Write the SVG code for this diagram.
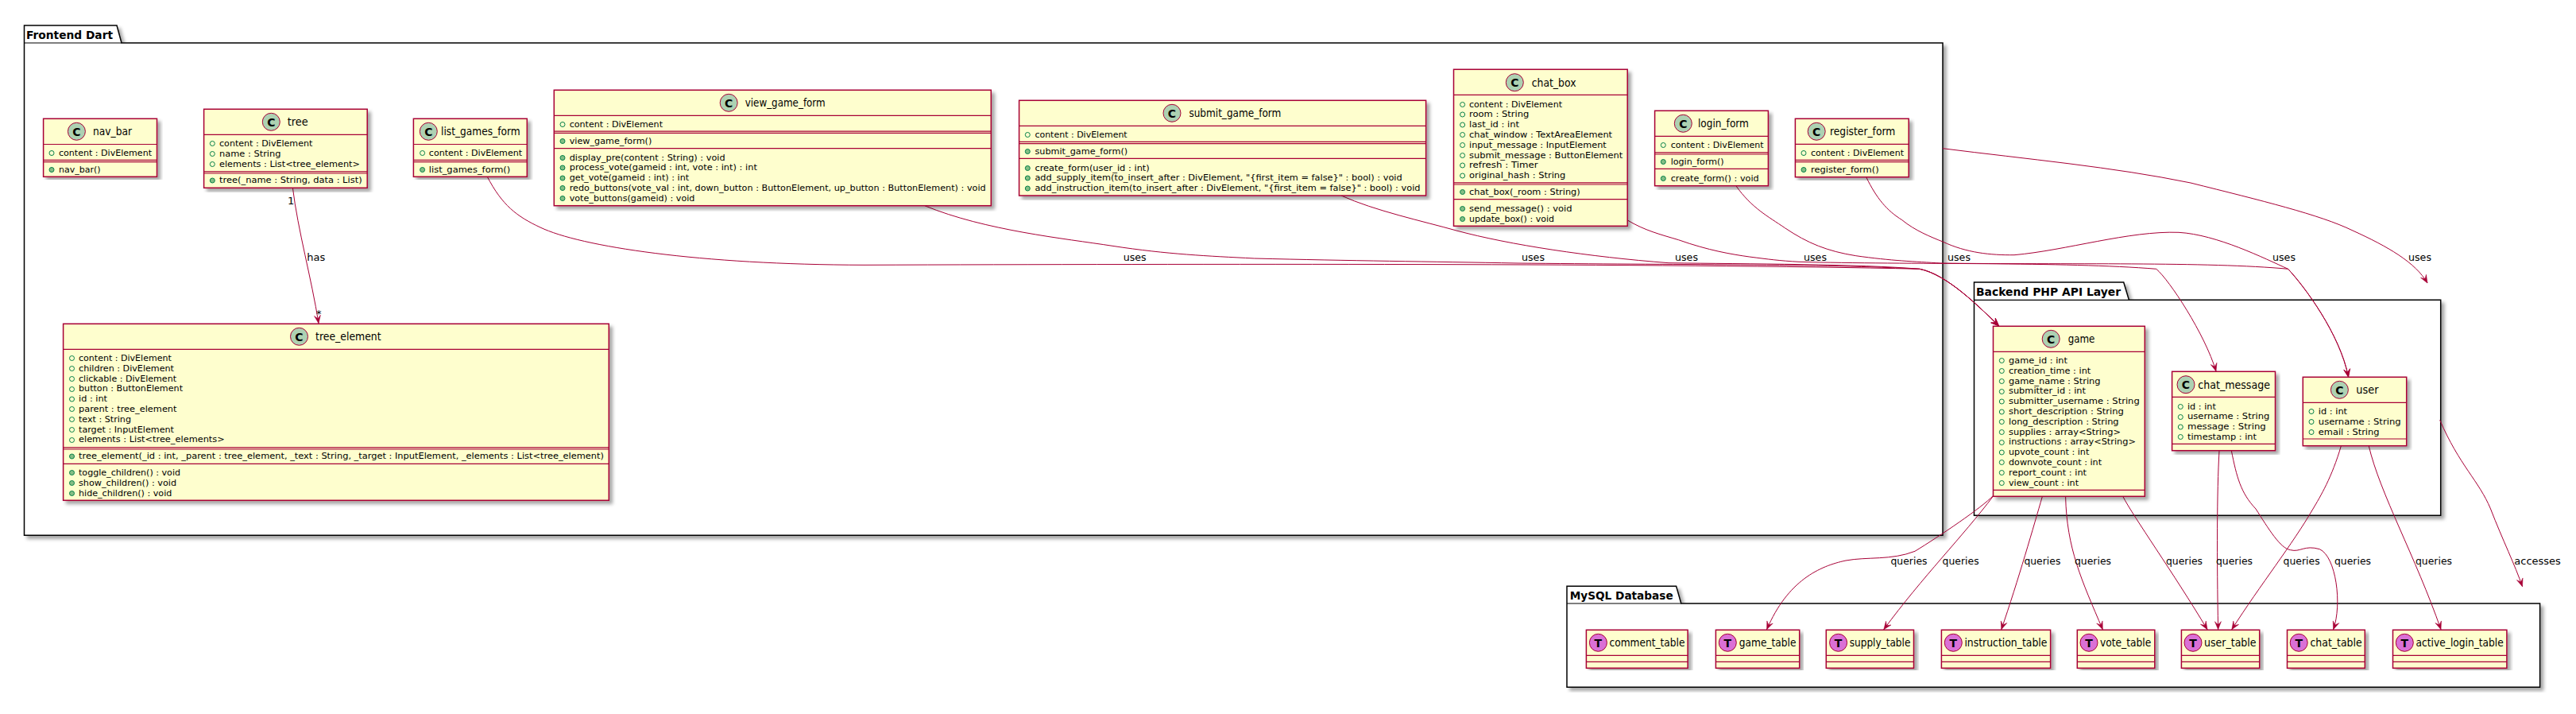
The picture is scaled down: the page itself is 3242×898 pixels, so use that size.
<svg xmlns="http://www.w3.org/2000/svg" width="3242" height="898" viewBox="0 0 3242 898">
<style>
text{font-family:"DejaVu Sans","Liberation Sans",sans-serif;fill:#000}
.m{font-size:11px}
.n{font-size:14px}
.e{font-size:13px}
.p{font-size:14px;font-weight:bold}
.g{font-size:14px;font-weight:bold;text-anchor:middle}
.b{fill:#FEFECE;stroke:#A80036;stroke-width:1.5;filter:url(#s)}
.l{fill:none;stroke:#A80036;stroke-width:1.2}
.c{fill:#ADD1B2;stroke:#A80036;stroke-width:1}
.t{fill:#DA70D6;stroke:#A80036;stroke-width:1}
.f{fill:none;stroke:#038048;stroke-width:1}
.o{fill:#84BE84;stroke:#038048;stroke-width:1}
.k{fill:#fff;stroke:#000;stroke-width:1.5;filter:url(#s)}
#edges path{fill:none;stroke:#A80036;stroke-width:1}
.a{marker-end:url(#a)}
</style>
<defs>
<filter id="s" x="-5%" y="-5%" width="110%" height="110%"><feDropShadow dx="4" dy="4" stdDeviation="2" flood-color="#000" flood-opacity=".35"/></filter>
<marker id="a" markerUnits="userSpaceOnUse" markerWidth="14" markerHeight="12" refX="11" refY="6" orient="auto"><path d="M1 2L11 6L1 10L5 6Z" fill="#A80036" stroke="#A80036" stroke-width=".5"/></marker>
</defs>
<rect width="3242" height="898" fill="#fff"/>
<g id="pkg-frontend"><path class="k" d="M30.5 32H147L153 54H2445V673.3H30.5Z"/><path class="l" style="stroke:#000" d="M30.5 54H153"/><text class="p" x="33" y="49.3" textLength="109" lengthAdjust="spacingAndGlyphs">Frontend Dart</text></g>
<g id="pkg-backend"><path class="k" d="M2484.5 355H2672.7L2679.4 377.3H3071.7V648.3H2484.5Z"/><path class="l" style="stroke:#000" d="M2484.5 377.3H2679.4"/><text class="p" x="2487" y="371.7" textLength="182" lengthAdjust="spacingAndGlyphs">Backend PHP API Layer</text></g>
<g id="pkg-mysql"><path class="k" d="M1972 737.3H2109.6L2115.8 759H3196.6V864.3H1972Z"/><path class="l" style="stroke:#000" d="M1972 759H2115.8"/><text class="p" x="1975.7" y="754" textLength="130" lengthAdjust="spacingAndGlyphs">MySQL Database</text></g>

<g id="edges">
<path class="a" d="M368.4 236.3C375 290 392 350 401 406.7"/>
<path class="a" d="M613.3 222.3C632 258 650 272 680 286C730 310 880 333 1088 333.3C1500 332 2100 331 2416 338.3C2450 345 2490 385 2515.7 410"/>
<path class="a" d="M1163.7 258.7C1240 290 1340 300 1400 309.3C1470 320 1520 322 1578.6 325C1700 328 1800 329 1910 331C2100 333 2300 332 2416 338.3C2450 345 2490 385 2515.7 410"/>
<path class="a" d="M1688 246C1730 265 1790 278 1833 290C1900 308 2000 323 2100 330.7C2200 332 2340 332 2416 338.3C2450 345 2490 385 2515.7 410"/>
<path class="a" d="M2047.8 276.7C2070 290 2090 295 2112.5 301.7C2150 315 2180 320 2201.8 323C2225 326 2240 328 2264 329.3C2400 333 2600 329 2713.8 338.3C2730 352 2775 420 2789 467"/>
<path class="a" d="M2184.8 233.7C2205 262 2225 272 2246.4 286.7C2275 306 2300 316 2335.7 321.7C2380 328 2410 329 2442.9 331C2600 333 2780 329 2879.6 338.3C2900 360 2945 420 2955.6 474.3"/>
<path class="a" d="M2348.7 222.7C2362 250 2375 265 2393.8 276.7C2410 290 2430 298 2445 304C2475 318 2505 321 2535 320.7C2600 315 2680 290 2742 292.3C2790 295 2850 325 2879.6 338.3C2900 360 2945 420 2955.6 474.3"/>
<path class="a" d="M2445 186.7C2550 200 2660 210 2757 230C2845 252 2920 270 2961 290C3005 310 3040 330 3055 356"/>
<path class="a" d="M2508.5 623.3C2495 638 2440 675 2410 693.3C2380 705 2350 700 2323 705C2290 712 2250 730 2223.6 791.7"/>
<path class="a" d="M2508.5 624C2470 675 2420 725 2370.8 791.7"/>
<path class="a" d="M2570.4 624.3C2560 660 2540 730 2518.8 791.7"/>
<path class="a" d="M2599.6 624.3C2601 690 2620 730 2646.3 791.7"/>
<path class="a" d="M2671.7 624.3C2685 650 2735 720 2778 791.7"/>
<path class="a" d="M2793 566.7C2790 620 2790 700 2791.6 791.7"/>
<path class="a" d="M2808.3 566.7C2815 600 2820 620 2839 640C2855 665 2870 690 2882.6 691.7C2895 695 2900 685 2919.4 690.7C2940 700 2948 760 2936.6 791.7"/>
<path class="a" d="M2946.4 560.7C2935 600 2920 625 2911 640C2885 685 2845 735 2808.8 791.7"/>
<path class="a" d="M2981.2 560.7C2995 620 3040 700 3072 791.7"/>
<path class="a" d="M3070.7 528.3C3095 585 3120 605 3134.5 640C3150 680 3165 710 3174.5 737.7"/>
<text class="e" x="362" y="256.7">1</text>
<text class="e" x="386.2" y="327.7" textLength="23" lengthAdjust="spacingAndGlyphs">has</text>
<text class="e" x="398" y="399">*</text>
<text class="e" x="1413.7" y="328" textLength="29" lengthAdjust="spacingAndGlyphs">uses</text>
<text class="e" x="1915" y="328" textLength="29" lengthAdjust="spacingAndGlyphs">uses</text>
<text class="e" x="2108" y="328" textLength="29" lengthAdjust="spacingAndGlyphs">uses</text>
<text class="e" x="2270" y="328" textLength="29" lengthAdjust="spacingAndGlyphs">uses</text>
<text class="e" x="2451" y="328" textLength="29" lengthAdjust="spacingAndGlyphs">uses</text>
<text class="e" x="2860" y="328" textLength="29" lengthAdjust="spacingAndGlyphs">uses</text>
<text class="e" x="3031" y="328" textLength="29" lengthAdjust="spacingAndGlyphs">uses</text>
<text class="e" x="2379.5" y="710" textLength="46" lengthAdjust="spacingAndGlyphs">queries</text>
<text class="e" x="2444.6" y="710" textLength="46" lengthAdjust="spacingAndGlyphs">queries</text>
<text class="e" x="2547.4" y="710" textLength="46" lengthAdjust="spacingAndGlyphs">queries</text>
<text class="e" x="2611" y="710" textLength="46" lengthAdjust="spacingAndGlyphs">queries</text>
<text class="e" x="2726" y="710" textLength="46" lengthAdjust="spacingAndGlyphs">queries</text>
<text class="e" x="2789" y="710" textLength="46" lengthAdjust="spacingAndGlyphs">queries</text>
<text class="e" x="2873.6" y="710" textLength="46" lengthAdjust="spacingAndGlyphs">queries</text>
<text class="e" x="2938" y="710" textLength="46" lengthAdjust="spacingAndGlyphs">queries</text>
<text class="e" x="3040" y="710" textLength="46" lengthAdjust="spacingAndGlyphs">queries</text>
<text class="e" x="3164.3" y="710" textLength="58.6" lengthAdjust="spacingAndGlyphs">accesses</text>
</g>

<g id="nav_bar"><rect class="b" x="54.6" y="149.3" width="142.9" height="73"/><path class="l" d="M54.6 181.5H197.5M54.6 201.4H197.5M54.6 203.6H197.5"/><circle class="c" cx="96.4" cy="165.3" r="11"/><text class="g" x="96.4" y="170.5">C</text><text class="n" x="117" y="170" textLength="49" lengthAdjust="spacingAndGlyphs">nav_bar</text>
<circle class="f" cx="65" cy="192.5" r="3"/><text class="m" x="74" y="196" textLength="117" lengthAdjust="spacingAndGlyphs">content : DivElement</text><circle class="o" cx="65" cy="213.5" r="3"/><text class="m" x="74" y="217" textLength="52.5" lengthAdjust="spacingAndGlyphs">nav_bar()</text></g>

<g id="tree"><rect class="b" x="256.6" y="137.3" width="205.6" height="99"/><path class="l" d="M256.6 169.3H462.2M256.6 215.8H462.2M256.6 218H462.2"/><circle class="c" cx="341.3" cy="153.3" r="11"/><text class="g" x="341.3" y="158.5">C</text><text class="n" x="361.7" y="158" textLength="26" lengthAdjust="spacingAndGlyphs">tree</text>
<circle class="f" cx="267.3" cy="180.5" r="3"/><text class="m" x="276" y="184" textLength="117.4" lengthAdjust="spacingAndGlyphs">content : DivElement</text><circle class="f" cx="267.3" cy="193.5" r="3"/><text class="m" x="276" y="197" textLength="77.5" lengthAdjust="spacingAndGlyphs">name : String</text><circle class="f" cx="267.3" cy="206.5" r="3"/><text class="m" x="276" y="210" textLength="177" lengthAdjust="spacingAndGlyphs">elements : List&lt;tree_element&gt;</text><circle class="o" cx="267.3" cy="227" r="3"/><text class="m" x="276" y="230" textLength="179.6" lengthAdjust="spacingAndGlyphs">tree(_name : String, data : List)</text></g>

<g id="list_games_form"><rect class="b" x="520.4" y="149.3" width="142.9" height="73"/><path class="l" d="M520.4 181.5H663.3M520.4 201.4H663.3M520.4 203.6H663.3"/><circle class="c" cx="539.3" cy="165.3" r="11"/><text class="g" x="539.3" y="170.5">C</text><text class="n" x="555" y="170" textLength="99.6" lengthAdjust="spacingAndGlyphs">list_games_form</text>
<circle class="f" cx="531.6" cy="192.5" r="3"/><text class="m" x="539.8" y="196" textLength="117.3" lengthAdjust="spacingAndGlyphs">content : DivElement</text><circle class="o" cx="531.6" cy="213.5" r="3"/><text class="m" x="539.8" y="217" textLength="102.5" lengthAdjust="spacingAndGlyphs">list_games_form()</text></g>

<g id="view_game_form"><rect class="b" x="697.3" y="113.3" width="550" height="145.4"/><path class="l" d="M697.3 145.3H1247.3M697.3 165.2H1247.3M697.3 167.4H1247.3M697.3 186.7H1247.3"/><circle class="c" cx="917.2" cy="129.3" r="11"/><text class="g" x="917.2" y="134.5">C</text><text class="n" x="937.7" y="134" textLength="101" lengthAdjust="spacingAndGlyphs">view_game_form</text>
<circle class="f" cx="708" cy="156.5" r="3"/><text class="m" x="716.7" y="160" textLength="117.3" lengthAdjust="spacingAndGlyphs">content : DivElement</text><circle class="o" cx="708" cy="177.5" r="3"/><text class="m" x="716.7" y="181" textLength="103.6" lengthAdjust="spacingAndGlyphs">view_game_form()</text>
<circle class="o" cx="708" cy="198.5" r="3"/><text class="m" x="716.7" y="201.7" textLength="196" lengthAdjust="spacingAndGlyphs">display_pre(content : String) : void</text><circle class="o" cx="708" cy="211" r="3"/><text class="m" x="716.7" y="214" textLength="236.2" lengthAdjust="spacingAndGlyphs">process_vote(gameid : int, vote : int) : int</text><circle class="o" cx="708" cy="224" r="3"/><text class="m" x="716.7" y="227" textLength="150.5" lengthAdjust="spacingAndGlyphs">get_vote(gameid : int) : int</text><circle class="o" cx="708" cy="236.5" r="3"/><text class="m" x="716.7" y="239.7" textLength="524" lengthAdjust="spacingAndGlyphs">redo_buttons(vote_val : int, down_button : ButtonElement, up_button : ButtonElement) : void</text><circle class="o" cx="708" cy="249.5" r="3"/><text class="m" x="716.7" y="252.7" textLength="157.7" lengthAdjust="spacingAndGlyphs">vote_buttons(gameid) : void</text></g>

<g id="submit_game_form"><rect class="b" x="1282.6" y="126.3" width="512" height="119.7"/><path class="l" d="M1282.6 158.3H1794.6M1282.6 178.4H1794.6M1282.6 180.6H1794.6M1282.6 199.3H1794.6"/><circle class="c" cx="1475" cy="142.3" r="11"/><text class="g" x="1475" y="147.5">C</text><text class="n" x="1496.4" y="147" textLength="116" lengthAdjust="spacingAndGlyphs">submit_game_form</text>
<circle class="f" cx="1293.3" cy="169.5" r="3"/><text class="m" x="1302.4" y="173" textLength="116.3" lengthAdjust="spacingAndGlyphs">content : DivElement</text><circle class="o" cx="1293.3" cy="190.5" r="3"/><text class="m" x="1302.4" y="194" textLength="116.8" lengthAdjust="spacingAndGlyphs">submit_game_form()</text>
<circle class="o" cx="1293.3" cy="211.5" r="3"/><text class="m" x="1302.4" y="214.7" textLength="144.4" lengthAdjust="spacingAndGlyphs">create_form(user_id : int)</text><circle class="o" cx="1293.3" cy="224" r="3"/><text class="m" x="1302.4" y="227" textLength="462.3" lengthAdjust="spacingAndGlyphs">add_supply_item(to_insert_after : DivElement, "{first_item = false}" : bool) : void</text><circle class="o" cx="1293.3" cy="237" r="3"/><text class="m" x="1302.4" y="240" textLength="485.1" lengthAdjust="spacingAndGlyphs">add_instruction_item(to_insert_after : DivElement, "{first_item = false}" : bool) : void</text></g>

<g id="chat_box"><rect class="b" x="1829.5" y="87.3" width="218.7" height="197"/><path class="l" d="M1829.5 119.3H2048.2M1829.5 229.8H2048.2M1829.5 232H2048.2M1829.5 250.7H2048.2"/><circle class="c" cx="1906.3" cy="103.7" r="11"/><text class="g" x="1906.3" y="109">C</text><text class="n" x="1927.7" y="109" textLength="55.8" lengthAdjust="spacingAndGlyphs">chat_box</text>
<circle class="f" cx="1840.6" cy="131.5" r="3"/><text class="m" x="1849" y="134.7" textLength="117" lengthAdjust="spacingAndGlyphs">content : DivElement</text><circle class="f" cx="1840.6" cy="144" r="3"/><text class="m" x="1849" y="147" textLength="75.4" lengthAdjust="spacingAndGlyphs">room : String</text><circle class="f" cx="1840.6" cy="157" r="3"/><text class="m" x="1849" y="160" textLength="63" lengthAdjust="spacingAndGlyphs">last_id : int</text><circle class="f" cx="1840.6" cy="169.5" r="3"/><text class="m" x="1849" y="172.7" textLength="180" lengthAdjust="spacingAndGlyphs">chat_window : TextAreaElement</text><circle class="f" cx="1840.6" cy="182.5" r="3"/><text class="m" x="1849" y="186" textLength="172.8" lengthAdjust="spacingAndGlyphs">input_message : InputElement</text><circle class="f" cx="1840.6" cy="195.5" r="3"/><text class="m" x="1849" y="198.7" textLength="193.3" lengthAdjust="spacingAndGlyphs">submit_message : ButtonElement</text><circle class="f" cx="1840.6" cy="208" r="3"/><text class="m" x="1849" y="210.7" textLength="86.6" lengthAdjust="spacingAndGlyphs">refresh : Timer</text><circle class="f" cx="1840.6" cy="221" r="3"/><text class="m" x="1849" y="224" textLength="121.4" lengthAdjust="spacingAndGlyphs">original_hash : String</text>
<circle class="o" cx="1840.6" cy="241.5" r="3"/><text class="m" x="1849" y="245" textLength="139.7" lengthAdjust="spacingAndGlyphs">chat_box(_room : String)</text><circle class="o" cx="1840.6" cy="262.5" r="3"/><text class="m" x="1849" y="265.7" textLength="129.5" lengthAdjust="spacingAndGlyphs">send_message() : void</text><circle class="o" cx="1840.6" cy="275.5" r="3"/><text class="m" x="1849" y="278.7" textLength="107" lengthAdjust="spacingAndGlyphs">update_box() : void</text></g>

<g id="login_form"><rect class="b" x="2082.6" y="139.3" width="142.8" height="94.4"/><path class="l" d="M2082.6 171.3H2225.4M2082.6 191.8H2225.4M2082.6 194H2225.4M2082.6 212.3H2225.4"/><circle class="c" cx="2118.3" cy="155.3" r="11"/><text class="g" x="2118.3" y="160.5">C</text><text class="n" x="2137" y="160" textLength="63.9" lengthAdjust="spacingAndGlyphs">login_form</text>
<circle class="f" cx="2093.3" cy="182.5" r="3"/><text class="m" x="2102.7" y="186" textLength="117" lengthAdjust="spacingAndGlyphs">content : DivElement</text><circle class="o" cx="2093.3" cy="203.5" r="3"/><text class="m" x="2102.7" y="207" textLength="67" lengthAdjust="spacingAndGlyphs">login_form()</text><circle class="o" cx="2093.3" cy="224.5" r="3"/><text class="m" x="2102.7" y="227.7" textLength="111" lengthAdjust="spacingAndGlyphs">create_form() : void</text></g>

<g id="register_form"><rect class="b" x="2259.4" y="149.3" width="142.8" height="73.4"/><path class="l" d="M2259.4 181.3H2402.2M2259.4 201.4H2402.2M2259.4 203.6H2402.2"/><circle class="c" cx="2286.2" cy="165.3" r="11"/><text class="g" x="2286.2" y="170.5">C</text><text class="n" x="2303" y="170" textLength="82.3" lengthAdjust="spacingAndGlyphs">register_form</text>
<circle class="f" cx="2270" cy="192.5" r="3"/><text class="m" x="2279" y="196" textLength="117" lengthAdjust="spacingAndGlyphs">content : DivElement</text><circle class="o" cx="2270" cy="213.5" r="3"/><text class="m" x="2279" y="217" textLength="85.7" lengthAdjust="spacingAndGlyphs">register_form()</text></g>

<g id="tree_element"><rect class="b" x="79.6" y="407.3" width="686.7" height="222"/><path class="l" d="M79.6 439.3H766.3M79.6 562.8H766.3M79.6 565H766.3M79.6 583.3H766.3"/><circle class="c" cx="376.5" cy="423.3" r="11"/><text class="g" x="376.5" y="428.5">C</text><text class="n" x="397" y="428" textLength="82.6" lengthAdjust="spacingAndGlyphs">tree_element</text>
<circle class="f" cx="90.5" cy="450.5" r="3"/><text class="m" x="99" y="454" textLength="116.8" lengthAdjust="spacingAndGlyphs">content : DivElement</text><circle class="f" cx="90.5" cy="463.5" r="3"/><text class="m" x="99" y="467" textLength="120" lengthAdjust="spacingAndGlyphs">children : DivElement</text><circle class="f" cx="90.5" cy="476.5" r="3"/><text class="m" x="99" y="480" textLength="123" lengthAdjust="spacingAndGlyphs">clickable : DivElement</text><circle class="f" cx="90.5" cy="489.5" r="3"/><text class="m" x="99" y="492.4" textLength="131" lengthAdjust="spacingAndGlyphs">button : ButtonElement</text><circle class="f" cx="90.5" cy="502" r="3"/><text class="m" x="99" y="505" textLength="36" lengthAdjust="spacingAndGlyphs">id : int</text><circle class="f" cx="90.5" cy="514.5" r="3"/><text class="m" x="99" y="518" textLength="123.5" lengthAdjust="spacingAndGlyphs">parent : tree_element</text><circle class="f" cx="90.5" cy="527.5" r="3"/><text class="m" x="99" y="531" textLength="66" lengthAdjust="spacingAndGlyphs">text : String</text><circle class="f" cx="90.5" cy="540.5" r="3"/><text class="m" x="99" y="544" textLength="120" lengthAdjust="spacingAndGlyphs">target : InputElement</text><circle class="f" cx="90.5" cy="553.5" r="3"/><text class="m" x="99" y="556.4" textLength="183.7" lengthAdjust="spacingAndGlyphs">elements : List&lt;tree_elements&gt;</text>
<circle class="o" cx="90.5" cy="574" r="3"/><text class="m" x="99" y="577" textLength="661" lengthAdjust="spacingAndGlyphs">tree_element(_id : int, _parent : tree_element, _text : String, _target : InputElement, _elements : List&lt;tree_element)</text>
<circle class="o" cx="90.5" cy="594.5" r="3"/><text class="m" x="99" y="597.7" textLength="128" lengthAdjust="spacingAndGlyphs">toggle_children() : void</text><circle class="o" cx="90.5" cy="607.5" r="3"/><text class="m" x="99" y="610.7" textLength="123" lengthAdjust="spacingAndGlyphs">show_children() : void</text><circle class="o" cx="90.5" cy="620.5" r="3"/><text class="m" x="99" y="623.7" textLength="117.3" lengthAdjust="spacingAndGlyphs">hide_children() : void</text></g>

<g id="game"><rect class="b" x="2508.5" y="410.3" width="190.8" height="214"/><path class="l" d="M2508.5 442.3H2699.3M2508.5 616.3H2699.3"/><circle class="c" cx="2581.2" cy="426.3" r="11"/><text class="g" x="2581.2" y="431.5">C</text><text class="n" x="2602.7" y="431" textLength="33.7" lengthAdjust="spacingAndGlyphs">game</text>
<circle class="f" cx="2519.3" cy="453.5" r="3"/><text class="m" x="2528" y="457" textLength="74" lengthAdjust="spacingAndGlyphs">game_id : int</text><circle class="f" cx="2519.3" cy="466.5" r="3"/><text class="m" x="2528" y="470" textLength="103.3" lengthAdjust="spacingAndGlyphs">creation_time : int</text><circle class="f" cx="2519.3" cy="479.5" r="3"/><text class="m" x="2528" y="483" textLength="115.6" lengthAdjust="spacingAndGlyphs">game_name : String</text><circle class="f" cx="2519.3" cy="492.5" r="3"/><text class="m" x="2528" y="495" textLength="97" lengthAdjust="spacingAndGlyphs">submitter_id : int</text><circle class="f" cx="2519.3" cy="505" r="3"/><text class="m" x="2528" y="508" textLength="164.7" lengthAdjust="spacingAndGlyphs">submitter_username : String</text><circle class="f" cx="2519.3" cy="518" r="3"/><text class="m" x="2528" y="521" textLength="144.8" lengthAdjust="spacingAndGlyphs">short_description : String</text><circle class="f" cx="2519.3" cy="530.5" r="3"/><text class="m" x="2528" y="534" textLength="138.6" lengthAdjust="spacingAndGlyphs">long_description : String</text><circle class="f" cx="2519.3" cy="543.5" r="3"/><text class="m" x="2528" y="547" textLength="141" lengthAdjust="spacingAndGlyphs">supplies : array&lt;String&gt;</text><circle class="f" cx="2519.3" cy="556.5" r="3"/><text class="m" x="2528" y="559.4" textLength="160" lengthAdjust="spacingAndGlyphs">instructions : array&lt;String&gt;</text><circle class="f" cx="2519.3" cy="569" r="3"/><text class="m" x="2528" y="572" textLength="101.3" lengthAdjust="spacingAndGlyphs">upvote_count : int</text><circle class="f" cx="2519.3" cy="581.5" r="3"/><text class="m" x="2528" y="585" textLength="117" lengthAdjust="spacingAndGlyphs">downvote_count : int</text><circle class="f" cx="2519.3" cy="594.5" r="3"/><text class="m" x="2528" y="598" textLength="98" lengthAdjust="spacingAndGlyphs">report_count : int</text><circle class="f" cx="2519.3" cy="607.5" r="3"/><text class="m" x="2528" y="611" textLength="88" lengthAdjust="spacingAndGlyphs">view_count : int</text></g>

<g id="chat_message"><rect class="b" x="2733.6" y="467.3" width="129.9" height="99.4"/><path class="l" d="M2733.6 499.3H2863.5M2733.6 558.3H2863.5"/><circle class="c" cx="2751" cy="483.7" r="11"/><text class="g" x="2751" y="489">C</text><text class="n" x="2766.3" y="488.7" textLength="90.6" lengthAdjust="spacingAndGlyphs">chat_message</text>
<circle class="f" cx="2744.3" cy="511.5" r="3"/><text class="m" x="2753" y="515" textLength="35.8" lengthAdjust="spacingAndGlyphs">id : int</text><circle class="f" cx="2744.3" cy="524.5" r="3"/><text class="m" x="2753" y="527.4" textLength="103.3" lengthAdjust="spacingAndGlyphs">username : String</text><circle class="f" cx="2744.3" cy="537" r="3"/><text class="m" x="2753" y="540.4" textLength="98.7" lengthAdjust="spacingAndGlyphs">message : String</text><circle class="f" cx="2744.3" cy="549.5" r="3"/><text class="m" x="2753" y="553" textLength="87" lengthAdjust="spacingAndGlyphs">timestamp : int</text></g>

<g id="user"><rect class="b" x="2898.3" y="474.3" width="130.4" height="86.4"/><path class="l" d="M2898.3 506.3H3028.7M2898.3 552H3028.7"/><circle class="c" cx="2944.4" cy="490.3" r="11"/><text class="g" x="2944.4" y="495.5">C</text><text class="n" x="2965.3" y="495" textLength="28.2" lengthAdjust="spacingAndGlyphs">user</text>
<circle class="f" cx="2909" cy="517.5" r="3"/><text class="m" x="2917.8" y="520.7" textLength="36.3" lengthAdjust="spacingAndGlyphs">id : int</text><circle class="f" cx="2909" cy="530.5" r="3"/><text class="m" x="2917.8" y="534" textLength="103.8" lengthAdjust="spacingAndGlyphs">username : String</text><circle class="f" cx="2909" cy="543.5" r="3"/><text class="m" x="2917.8" y="547" textLength="76.7" lengthAdjust="spacingAndGlyphs">email : String</text></g>

<g id="comment_table"><rect class="b" x="1996.4" y="792.3" width="127.7" height="48"/><path class="l" d="M1996.4 824.3H2124.1M1996.4 832.3H2124.1"/><circle class="t" cx="2011.4" cy="808.3" r="11"/><text class="g" x="2011.4" y="813.5">T</text><text class="n" x="2025.5" y="813.3" textLength="95" lengthAdjust="spacingAndGlyphs">comment_table</text></g>
<g id="game_table"><rect class="b" x="2159.4" y="792.3" width="105.3" height="48"/><path class="l" d="M2159.4 824.3H2264.7M2159.4 832.3H2264.7"/><circle class="t" cx="2174.3" cy="808.3" r="11"/><text class="g" x="2174.3" y="813.5">T</text><text class="n" x="2188.8" y="813.3" textLength="71.7" lengthAdjust="spacingAndGlyphs">game_table</text></g>
<g id="supply_table"><rect class="b" x="2298.3" y="792.3" width="110.2" height="48"/><path class="l" d="M2298.3 824.3H2408.5M2298.3 832.3H2408.5"/><circle class="t" cx="2313.6" cy="808.3" r="11"/><text class="g" x="2313.6" y="813.5">T</text><text class="n" x="2327.7" y="813.3" textLength="76.7" lengthAdjust="spacingAndGlyphs">supply_table</text></g>
<g id="instruction_table"><rect class="b" x="2443.4" y="792.3" width="137.2" height="48"/><path class="l" d="M2443.4 824.3H2580.6M2443.4 832.3H2580.6"/><circle class="t" cx="2458.3" cy="808.3" r="11"/><text class="g" x="2458.3" y="813.5">T</text><text class="n" x="2472.4" y="813.3" textLength="104.1" lengthAdjust="spacingAndGlyphs">instruction_table</text></g>
<g id="vote_table"><rect class="b" x="2614.3" y="792.3" width="97.5" height="48"/><path class="l" d="M2614.3 824.3H2711.8M2614.3 832.3H2711.8"/><circle class="t" cx="2629" cy="808.3" r="11"/><text class="g" x="2629" y="813.5">T</text><text class="n" x="2643" y="813.3" textLength="64.3" lengthAdjust="spacingAndGlyphs">vote_table</text></g>
<g id="user_table"><rect class="b" x="2745.4" y="792.3" width="98.3" height="48"/><path class="l" d="M2745.4 824.3H2843.7M2745.4 832.3H2843.7"/><circle class="t" cx="2760" cy="808.3" r="11"/><text class="g" x="2760" y="813.5">T</text><text class="n" x="2774" y="813.3" textLength="65.6" lengthAdjust="spacingAndGlyphs">user_table</text></g>
<g id="chat_table"><rect class="b" x="2878.5" y="792.3" width="97.8" height="48"/><path class="l" d="M2878.5 824.3H2976.3M2878.5 832.3H2976.3"/><circle class="t" cx="2893.2" cy="808.3" r="11"/><text class="g" x="2893.2" y="813.5">T</text><text class="n" x="2907.5" y="813.3" textLength="65.1" lengthAdjust="spacingAndGlyphs">chat_table</text></g>
<g id="active_login_table"><rect class="b" x="3011.5" y="792.3" width="143.4" height="48"/><path class="l" d="M3011.5 824.3H3154.9M3011.5 832.3H3154.9"/><circle class="t" cx="3026.3" cy="808.3" r="11"/><text class="g" x="3026.3" y="813.5">T</text><text class="n" x="3040.6" y="813.3" textLength="110.2" lengthAdjust="spacingAndGlyphs">active_login_table</text></g>
</svg>
